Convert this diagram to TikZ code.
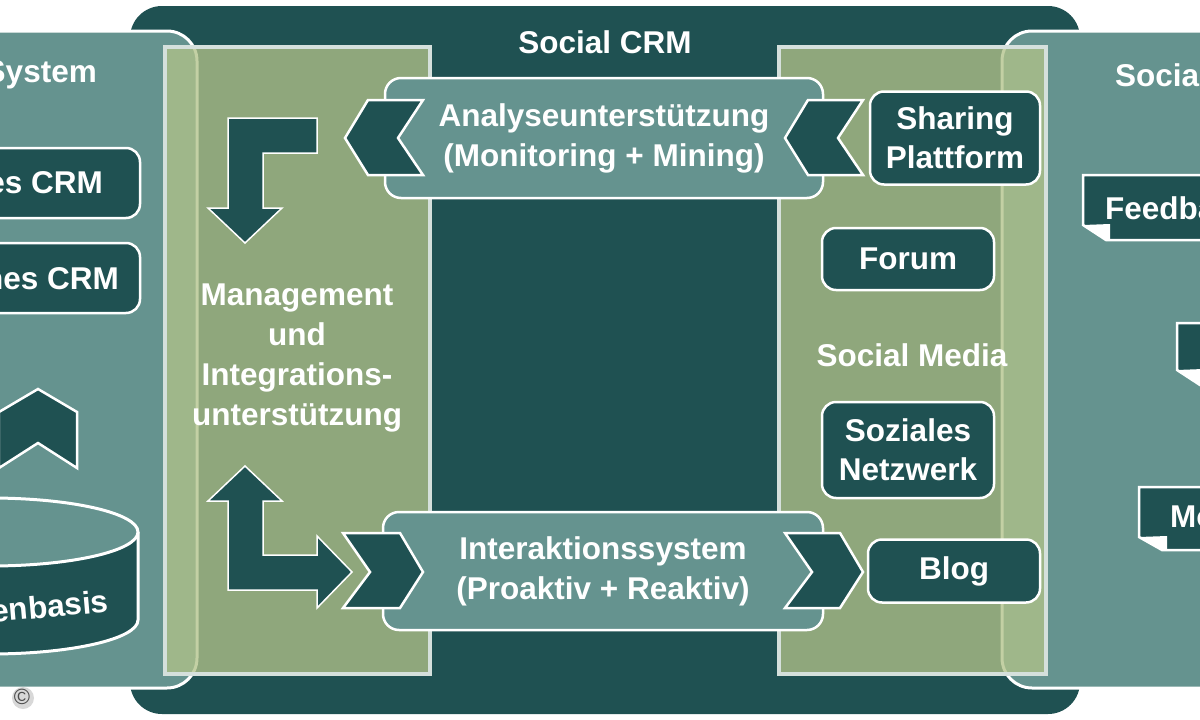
\documentclass[tikz,border=0pt]{standalone}
\usepackage{fontspec}
\setmainfont{Liberation Sans}
\definecolor{dk}{HTML}{1F5152}
\definecolor{tl}{HTML}{65938F}
\definecolor{gr}{RGB}{177,194,137}
\definecolor{gb}{HTML}{D5E0DC}
\begin{document}
\begin{tikzpicture}[x=1pt,y=-1pt,
  txt/.style={text=white,font=\fontsize{31.5}{40}\selectfont\bfseries,align=center,inner sep=0pt},
  darkbox/.style={draw=white,line width=2.5pt,fill=dk,rounded corners=14pt,inner sep=0pt,
    text=white,font=\fontsize{31.5}{39}\selectfont\bfseries,align=center},
  tealbox/.style={draw=white,line width=2.5pt,fill=tl,rounded corners=16pt,inner sep=0pt,
    text=white,font=\fontsize{31.5}{40}\selectfont\bfseries,align=center},
  shp/.style={draw=white,line width=2.5pt,fill=dk,line join=miter},
  arr/.style={draw=white,line width=1.5pt,fill=dk,line join=miter},
  panel/.style={draw=gb,line width=4pt,fill=gr,fill opacity=0.77},
  sidebox/.style={draw=white,line width=3pt,fill=tl,rounded corners=30pt},
  fold/.style={draw=white,line width=2.5pt,fill=dk,line join=miter},
]
\useasboundingbox (0,0) rectangle (1200,720);
\clip (0,0) rectangle (1200,720);
\fill[white] (0,0) rectangle (1200,720);
% Social CRM background
\fill[dk, rounded corners=32pt] (130,6) rectangle (1080,714);
% side boxes
\path[sidebox] (-40,31) rectangle (197,688);
\path[sidebox] (1002,31) rectangle (1240,688);
% green panels
\path[panel] (165,47) rectangle (430,674);
\path[panel] (779,47) rectangle (1046,674);

% titles
\node[txt] (crm) at (605,42) {Social CRM};
\node[txt, anchor=east] (sys) at (97,75) {System};
\node[txt, anchor=west] (soc) at (1115,75) {Socia};

% left box content
\node[darkbox, minimum width=180pt, minimum height=70pt] (op) at (50,183) {};
\node[txt, anchor=east] (opt) at (103,183) {es CRM};
\node[darkbox, minimum width=180pt, minimum height=70pt] (an) at (50,278) {};
\node[txt, anchor=east] (ant) at (119,278) {hes CRM};
\draw[shp] (38,389) -- (77,412) -- (77,468) -- (38,443) -- (-1,468) -- (-1,412) -- cycle;
% database cylinder
\fill[dk] (138,532) -- (138,620) arc[start angle=0,end angle=180,x radius=148,y radius=34] -- (-158,532) -- cycle;
\draw[white, line width=3pt] (138,532) -- (138,620) arc[start angle=0,end angle=180,x radius=148,y radius=34];
\draw[white, line width=3pt, fill=tl] (-10,532) ellipse[x radius=148, y radius=34];
\node[txt, rotate=5] (db) at (50,606) {enbasis};

% management
\node[txt] (mgmt) at (297,358) {Management\\und\\Integrations-\\unterstützung};
\draw[arr] (317,118) -- (228,118) -- (228,208) -- (208,208) -- (245,243) -- (282,208) -- (263,208) -- (263,153) -- (317,153) -- cycle;
\draw[arr] (245,466) -- (282,501) -- (263,501) -- (263,555) -- (317,555) -- (317,536) -- (352,572) -- (317,608) -- (317,590) -- (228,590) -- (228,501) -- (208,501) -- cycle;

% center boxes
\node[tealbox, minimum width=438pt, minimum height=120pt] (ana) at (604,138) {Analyseunterstützung\\(Monitoring + Mining)};
\node[tealbox, minimum width=440pt, minimum height=118pt] (int) at (603,571) {Interaktionssystem\\(Proaktiv + Reaktiv)};
\draw[shp] (345,138) -- (368,100) -- (423,100) -- (398,138) -- (423,175) -- (368,175) -- cycle;
\draw[shp] (785,138) -- (808,100) -- (863,100) -- (838,138) -- (863,175) -- (808,175) -- cycle;
\draw[shp] (343,533) -- (400,533) -- (423,572) -- (400,608) -- (343,608) -- (370,572) -- cycle;
\draw[shp] (785,533) -- (840,533) -- (863,572) -- (840,608) -- (785,608) -- (812,572) -- cycle;

% social media
\node[darkbox, minimum width=170pt, minimum height=93pt] (share) at (955,138) {Sharing\\Plattform};
\node[darkbox, minimum width=172pt, minimum height=62pt] (forum) at (908,259) {Forum};
\node[txt] (sm) at (912,355) {Social Media};
\node[darkbox, minimum width=172pt, minimum height=96pt] (sn) at (908,450) {Soziales\\Netzwerk};
\node[darkbox, minimum width=172pt, minimum height=63pt] (blog) at (954,571) {Blog};

% right side folded boxes
\draw[fold] (1083,175) -- (1240,175) -- (1240,240) -- (1106,240) -- (1083,225) -- cycle;
\fill[white] (1083,225) -- (1110,224) -- (1110,240) -- (1106,240) -- cycle;
\node[txt, anchor=west] (fb) at (1105,208) {Feedba};
\draw[fold] (1177,323) -- (1240,323) -- (1240,385) -- (1200,385) -- (1177,370) -- cycle;
\fill[white] (1177,370) -- (1203,369) -- (1203,385) -- (1200,385) -- cycle;
\draw[fold] (1139,487) -- (1240,487) -- (1240,550) -- (1162,550) -- (1139,537) -- cycle;
\fill[white] (1139,537) -- (1167,536) -- (1167,550) -- (1162,550) -- cycle;
\node[txt, anchor=west] (mo) at (1170,517) {Mo};

% copyright mark
\fill[gray!60, opacity=0.5] (23,698) circle (11pt);
\node[text=gray!60!black, font=\fontsize{22}{22}\selectfont, inner sep=0pt] (copy) at (22,697) {\textcopyright};
\end{tikzpicture}
\end{document}
